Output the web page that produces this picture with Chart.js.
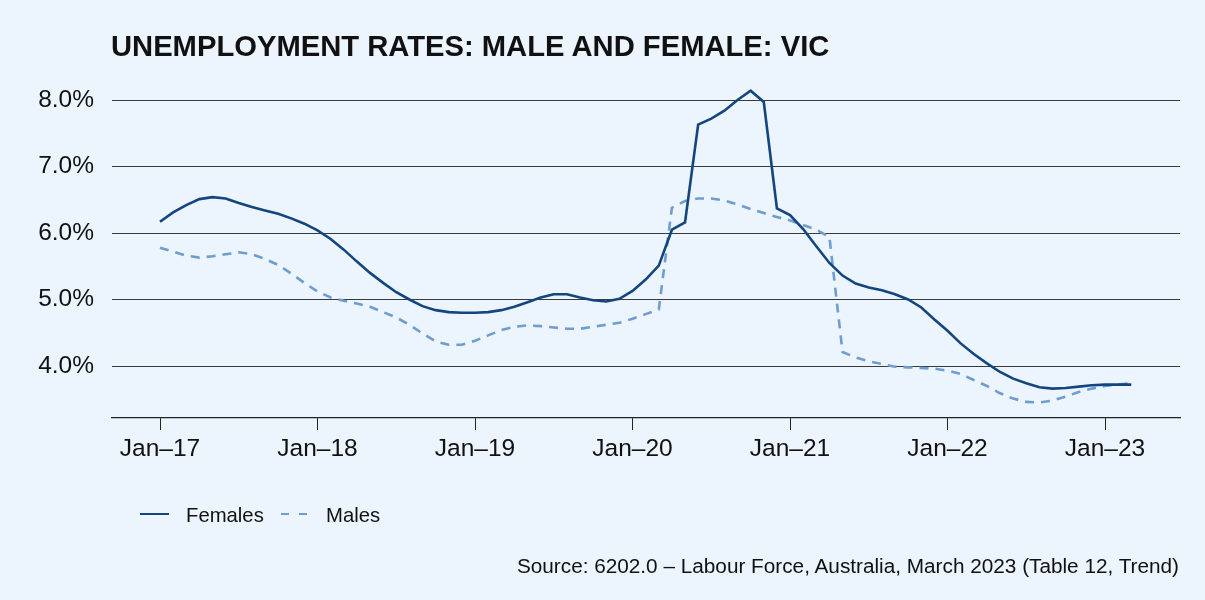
<!DOCTYPE html>
<html>
<head>
<meta charset="utf-8">
<script src="https://cdn.jsdelivr.net/npm/chart.js@4.4.1/dist/chart.umd.min.js"></script>
<style>
  body { margin: 0; background: #ecf4fd; }
  #wrap { position: relative; width: 1205px; height: 600px; background: #ecf4fd; font-family: "Liberation Sans", Arial, sans-serif; color: #111; }
  #chart { position: absolute; left: 0; top: 0; }
  .title { position: absolute; left: 111px; top: 32px; font-size: 29.2px; font-weight: bold; line-height: 1; white-space: nowrap; }
  .source { position: absolute; right: 26px; top: 556px; font-size: 20.75px; line-height: 1; white-space: nowrap; }
  .legend { position: absolute; top: 505px; font-size: 20.3px; line-height: 1; white-space: nowrap; }
  .swatch { position: absolute; height: 0; }
</style>
</head>
<body>
<div id="wrap">
  <canvas id="chart" width="1205" height="600"></canvas>
  <div class="title">UNEMPLOYMENT RATES: MALE AND FEMALE: VIC</div>
  <div id="legend"></div>
  <div class="source">Source: 6202.0 – Labour Force, Australia, March 2023 (Table 12, Trend)</div>
</div>
<script>
// monthly, Jan-17 .. Mar-23
const yearLabels = ['Jan–17', 'Jan–18', 'Jan–19', 'Jan–20', 'Jan–21', 'Jan–22', 'Jan–23']
const seriesNames = ['Females', 'Males']

const females = [
  6.17, 6.31, 6.42, 6.51, 6.54, 6.52, 6.45, 6.39, 6.34, 6.29, 6.22, 6.14,
  6.04, 5.91, 5.75, 5.57, 5.40, 5.25, 5.11, 5.00, 4.90, 4.84, 4.81, 4.80,
  4.80, 4.81, 4.84, 4.89, 4.96, 5.03, 5.08, 5.08, 5.03, 4.99, 4.97, 5.01,
  5.13, 5.30, 5.51, 6.05, 6.16, 7.63, 7.72, 7.84, 8.00, 8.14, 7.97, 6.37,
  6.27, 6.06, 5.80, 5.55, 5.36, 5.24, 5.18, 5.14, 5.08, 5.00, 4.88, 4.70,
  4.53, 4.34, 4.18, 4.04, 3.91, 3.81, 3.74, 3.68, 3.66, 3.67, 3.69, 3.71,
  3.72, 3.72, 3.72
]

const males = [
  5.78, 5.72, 5.66, 5.63, 5.65, 5.68, 5.71, 5.68, 5.61, 5.52, 5.39, 5.25,
  5.12, 5.03, 4.98, 4.94, 4.89, 4.81, 4.73, 4.62, 4.49, 4.37, 4.32, 4.32,
  4.38, 4.46, 4.54, 4.59, 4.61, 4.60, 4.58, 4.56, 4.56, 4.59, 4.62, 4.65,
  4.71, 4.78, 4.85, 6.38, 6.48, 6.52, 6.52, 6.49, 6.43, 6.36, 6.30, 6.24,
  6.19, 6.12, 6.05, 5.94, 4.21, 4.13, 4.07, 4.03, 3.99, 3.98, 3.97, 3.96,
  3.93, 3.88, 3.79, 3.70, 3.59, 3.51, 3.46, 3.45, 3.48, 3.54, 3.61, 3.66,
  3.70, 3.72, 3.74
]

const yTicks = [4, 5, 6, 7, 8]

const femaleColor = '#13467f'
const maleColor = '#6f9dd0'
const maleDash = [9, 7]

const toPoints = arr => arr.map((v, i) => ({ x: i, y: v }))

const chart = new Chart(document.getElementById('chart'), {
  type: 'line',
  data: {
    datasets: [
      { label: seriesNames[0], data: toPoints(females), borderColor: femaleColor, borderWidth: 2.6, pointRadius: 0, tension: 0 },
      { label: seriesNames[1], data: toPoints(males), borderColor: maleColor, borderWidth: 2.6, borderDash: maleDash, pointRadius: 0, tension: 0 }
    ]
  },
  options: {
    responsive: false,
    animation: false,
    devicePixelRatio: 1,
    layout: { padding: { left: 0, right: 25, top: 83, bottom: 0 } },
    plugins: { legend: { display: false }, tooltip: { enabled: false } },
    scales: {
      x: {
        type: 'linear',
        min: -3.657,
        max: 77.71,
        afterBuildTicks: s => { s.ticks = yearLabels.map((l, i) => ({ value: i * 12 })) },
        afterFit: s => { s.height = 182 },
        grid: { drawOnChartArea: false, drawTicks: true, tickLength: 12, color: '#222', lineWidth: 1 },
        border: { display: true, color: '#222', width: 1.2 },
        ticks: {
          autoSkip: false,
          maxRotation: 0,
          padding: 5,
          color: '#111',
          font: { family: '"Liberation Sans", Arial, sans-serif', size: 24.5 },
          callback: v => yearLabels[Math.round(v / 12)]
        }
      },
      y: {
        min: 3.218,
        max: 8.256,
        afterBuildTicks: s => { s.ticks = yTicks.map(v => ({ value: v })) },
        afterFit: s => { s.width = 112 },
        grid: { drawTicks: false, color: '#3a3a3a', lineWidth: 1 },
        border: { display: false },
        ticks: {
          padding: 18,
          color: '#111',
          font: { family: '"Liberation Sans", Arial, sans-serif', size: 24.5 },
          callback: v => v.toFixed(1) + '%'
        }
      }
    }
  }
})

// legend built from the datasets
const legendEl = document.getElementById('legend')
const legendPos = [{ line: 140, text: 186 }, { line: 281, text: 326 }]
chart.data.datasets.forEach((ds, i) => {
  const p = legendPos[i]
  if (ds.borderDash) {
    ;[0, 18].forEach(off => {
      const d = document.createElement('div')
      d.className = 'swatch'
      d.style.cssText = 'left:' + (p.line + off) + 'px;top:513px;width:8px;border-top:2.5px solid ' + ds.borderColor
      legendEl.appendChild(d)
    })
  } else {
    const d = document.createElement('div')
    d.className = 'swatch'
    d.style.cssText = 'left:' + p.line + 'px;top:513px;width:29px;border-top:2.5px solid ' + ds.borderColor
    legendEl.appendChild(d)
  }
  const t = document.createElement('div')
  t.className = 'legend'
  t.style.left = p.text + 'px'
  t.textContent = ds.label
  legendEl.appendChild(t)
})
</script>
</body>
</html>
